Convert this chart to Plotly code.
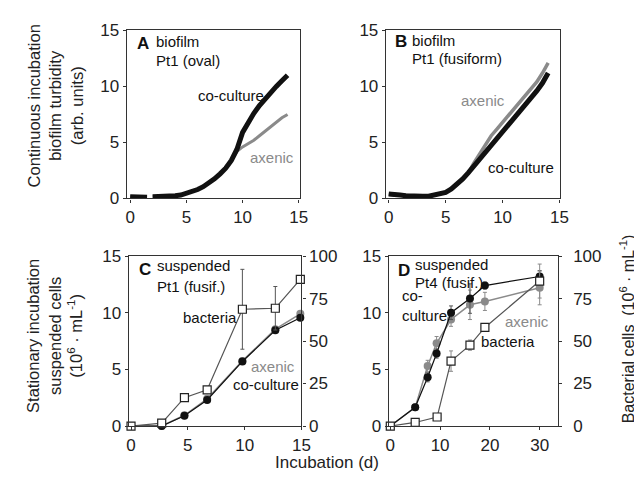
import plotly.graph_objects as go

# ---------------- data ----------------
# Panel A: biofilm Pt1 (oval), continuous incubation turbidity
days_A = [0, 0.5, 1.0, 1.5, 1.75, 2.0, 2.5, 3.0, 3.5, 4.0, 4.5, 5.0, 5.5, 6.0, 6.5, 7.0, 7.5,
          8.0, 8.5, 9.0, 9.5, 10.0, 10.5, 11.0, 11.5, 12.0, 12.5, 13.0, 13.5, 14.0]
A_coculture = [0.15, 0.15, 0.1, 0.1, None, 0.15, 0.15, 0.2, 0.2, 0.25, 0.3, 0.45, 0.6, 0.8, 1.05, 1.35, 1.75,
               2.2, 2.7, 3.4, 4.4, 5.9, 6.8, 7.6, 8.3, 8.9, 9.5, 10.0, 10.5, 11.0]
A_axenic = [0.15, 0.15, 0.1, 0.1, None, 0.15, 0.15, 0.2, 0.2, 0.25, 0.3, 0.45, 0.6, 0.8, 1.05, 1.35, 1.75,
            2.2, 2.7, 3.4, 4.2, 4.6, 4.9, 5.2, 5.6, 6.0, 6.4, 6.8, 7.2, 7.5]

# Panel B: biofilm Pt1 (fusiform)
days_B = [0, 0.5, 1.0, 1.5, 2.0, 2.5, 3.0, 3.5, 4.0, 4.5, 5.0, 5.5, 6.0, 6.5, 7.0, 7.5,
          8.0, 8.5, 9.0, 9.5, 10.0, 10.5, 11.0, 11.5, 12.0, 12.5, 13.0, 13.5, 14.0]
B_coculture = [0.4, 0.3, 0.3, 0.25, 0.2, 0.2, 0.2, 0.2, 0.3, 0.4, 0.55, 0.85, 1.25, 1.75, 2.3, 2.9,
               3.5, 4.1, 4.7, 5.3, 5.9, 6.5, 7.1, 7.7, 8.3, 8.9, 9.6, 10.3, 11.2]
B_axenic = [0.4, 0.3, 0.3, 0.25, 0.2, 0.2, 0.2, 0.2, 0.3, 0.4, 0.55, 0.85, 1.25, 1.75, 2.3, 3.2,
            4.0, 4.8, 5.6, 6.2, 6.8, 7.4, 8.0, 8.6, 9.1, 9.7, 10.4, 11.2, 12.1]

# Panel C: suspended Pt1 (fusif.), stationary incubation
days_C = [0, 2.7, 4.7, 6.7, 9.8, 12.7, 14.9]
C_coculture = [0.0, 0.0, 0.9, 2.3, 5.7, 8.45, 9.55]
C_axenic = [0.0, 0.0, 0.95, 2.4, 5.75, 8.55, 9.9]
C_bacteria = [0.0, 1.7, 16.7, 21.3, 68.7, 69.3, 86.3]        # right axis (10^6 mL-1)
C_bacteria_err = [0, 0.5, 1.5, 1.5, 23.5, 12.8, 2.0]

# Panel D: suspended Pt4 (fusif.)
days_D = [0, 5, 7.5, 9.3, 12.2, 16, 19, 30]
D_coculture = [0.0, 1.65, 4.3, 6.4, 10.0, 11.25, 12.4, 13.2]
D_coculture_err = [0, 0.1, 0.4, 0.4, 0.6, 1.3, 0.3, 0.5]
D_axenic = [0.0, 1.65, 5.3, 7.3, 9.4, 10.7, 11.0, 12.2]
D_axenic_err = [0, 0.1, 0.5, 0.6, 0.6, 1.3, 0.8, 1.5]
days_D_bact = [0, 5, 9.4, 12.2, 16, 19, 30]
D_bacteria = [0.0, 2.1, 5.3, 38.2, 47.6, 58.0, 85.3]       # right axis
D_bacteria_err = [0, 0.5, 0.5, 6.0, 3.0, 2.0, 10.0]

ticks_015 = [0, 5, 10, 15]
ticks_D_x = [0, 10, 20, 30]
ticks_right = [0, 25, 50, 75, 100]

# ---------------- figure ----------------
W, H = 642, 477
def px(x):
    return x / W
def py(y):
    return 1 - y / H

FONT = "Liberation Sans, Arial, sans-serif"
BLACK = "#111111"
GRAY = "#8a8a8a"
DARK = "#555555"

fig = go.Figure()

# A
fig.add_trace(go.Scatter(x=days_A, y=A_axenic, mode="lines", line=dict(color=GRAY, width=3),
                         connectgaps=False, xaxis="x", yaxis="y", showlegend=False))
fig.add_trace(go.Scatter(x=days_A, y=A_coculture, mode="lines", line=dict(color=BLACK, width=5),
                         connectgaps=False, xaxis="x", yaxis="y", showlegend=False))
# B
fig.add_trace(go.Scatter(x=days_B, y=B_axenic, mode="lines", line=dict(color=GRAY, width=3.5),
                         xaxis="x2", yaxis="y2", showlegend=False))
fig.add_trace(go.Scatter(x=days_B, y=B_coculture, mode="lines", line=dict(color=BLACK, width=5),
                         xaxis="x2", yaxis="y2", showlegend=False))

# C
fig.add_trace(go.Scatter(x=days_C, y=C_bacteria, mode="lines+markers",
                         line=dict(color=DARK, width=1.2),
                         marker=dict(symbol="square", size=8, color="white", line=dict(color="#222", width=1.2)),
                         error_y=dict(type="data", array=C_bacteria_err, color=DARK, thickness=1, width=2),
                         xaxis="x3", yaxis="y5", showlegend=False, cliponaxis=False))
fig.add_trace(go.Scatter(x=days_C, y=C_axenic, mode="lines+markers",
                         line=dict(color=GRAY, width=1.5),
                         marker=dict(symbol="circle", size=8, color=GRAY),
                         xaxis="x3", yaxis="y3", showlegend=False, cliponaxis=False))
fig.add_trace(go.Scatter(x=days_C, y=C_coculture, mode="lines+markers",
                         line=dict(color=BLACK, width=1.2),
                         marker=dict(symbol="circle", size=8, color=BLACK),
                         xaxis="x3", yaxis="y3", showlegend=False, cliponaxis=False))

# D
fig.add_trace(go.Scatter(x=days_D_bact, y=D_bacteria, mode="lines+markers",
                         line=dict(color=DARK, width=1.2),
                         marker=dict(symbol="square", size=8, color="white", line=dict(color="#222", width=1.2)),
                         error_y=dict(type="data", array=D_bacteria_err, color=GRAY, thickness=1, width=2),
                         xaxis="x4", yaxis="y6", showlegend=False, cliponaxis=False))
fig.add_trace(go.Scatter(x=days_D, y=D_axenic, mode="lines+markers",
                         line=dict(color=GRAY, width=1.5),
                         marker=dict(symbol="circle", size=8, color=GRAY),
                         error_y=dict(type="data", array=D_axenic_err, color=GRAY, thickness=1, width=2),
                         xaxis="x4", yaxis="y4", showlegend=False, cliponaxis=False))
fig.add_trace(go.Scatter(x=days_D, y=D_coculture, mode="lines+markers",
                         line=dict(color=BLACK, width=1.2),
                         marker=dict(symbol="circle", size=8, color=BLACK),
                         error_y=dict(type="data", array=D_coculture_err, color=DARK, thickness=1, width=2),
                         xaxis="x4", yaxis="y4", showlegend=False, cliponaxis=False))

ax = dict(showline=True, linecolor="#333333", linewidth=1.3, mirror=True, ticks="outside", ticklen=3,
          tickcolor="#333333", showgrid=False, zeroline=False,
          tickfont=dict(family=FONT, size=17, color="#222222"))

fig.update_layout(
    width=W, height=H,
    margin=dict(l=0, r=0, t=0, b=0),
    paper_bgcolor="white", plot_bgcolor="white",
    xaxis=dict(ax, domain=[px(118), px(295)], range=[-0.3, 15.15], tickvals=ticks_015, anchor="y"),
    yaxis=dict(ax, domain=[py(189), py(14)], range=[0, 15], tickvals=ticks_015, anchor="x"),
    xaxis2=dict(ax, domain=[px(382), px(559)], range=[-0.25, 15.0], tickvals=ticks_015, anchor="y2"),
    yaxis2=dict(ax, domain=[py(189), py(14)], range=[0, 15], tickvals=ticks_015, anchor="x2"),
    xaxis3=dict(ax, domain=[px(120), px(296)], range=[-0.2, 15.0], tickvals=ticks_015, anchor="y3"),
    yaxis3=dict(ax, domain=[py(426), py(249)], range=[0, 15], tickvals=ticks_015, anchor="x3"),
    yaxis5=dict(ax, range=[0, 100], tickvals=ticks_right, overlaying="y3", side="right", anchor="x3"),
    xaxis4=dict(ax, domain=[px(385), px(557)], range=[-0.3, 33.6], tickvals=ticks_D_x, anchor="y4"),
    yaxis4=dict(ax, domain=[py(426), py(249)], range=[0, 15], tickvals=ticks_015, anchor="x4"),
    yaxis6=dict(ax, range=[0, 100], tickvals=ticks_right, overlaying="y4", side="right", anchor="x4",
                ticklabelstandoff=8),
)

def label(x, y, text, color=BLACK, size=15, xanchor="left", bold=False, angle=0, yanchor="middle", align="left"):
    if bold:
        text = "<b>" + text + "</b>"
    fig.add_annotation(x=px(x), y=py(y), xref="paper", yref="paper", text=text, showarrow=False,
                       xanchor=xanchor, yanchor=yanchor, textangle=angle, align=align,
                       font=dict(family=FONT, size=size, color=color))

# panel letters and headings
label(126, 28, "A", size=17, bold=True)
label(146, 26, "biofilm", size=15)
label(146, 45, "Pt1 (oval)", size=15)
label(389, 26, "B", size=17, bold=True)
label(407, 24, "biofilm", size=15)
label(407, 43, "Pt1 (fusiform)", size=15)
label(128, 263, "C", size=17, bold=True)
label(147, 259, "suspended", size=15)
label(147, 281, "Pt1 (fusif.)", size=15)
label(392, 264, "D", size=17, bold=True)
label(410, 258, "suspended", size=15)
label(410, 277, "Pt4 (fusif.)", size=15)

# series labels
label(189, 82, "co-culture", size=15)
label(242, 146, "axenic", color=GRAY, size=15)
label(457, 87, "axenic", color=GRAY, size=15)
label(484, 157, "co-culture", size=15)
label(173, 313, "bacteria", size=15)
label(243, 364, "axenic", color=GRAY, size=15)
label(224, 383, "co-culture", size=15)
label(396, 300, "co-<br>culture", size=15, align="left")
label(501, 317, "axenic", color=GRAY, size=15)
label(477, 338, "bacteria", size=15)

# axis titles
label(45, 93, "Continuous incubation<br>biofilm turbidity<br>(arb. units)", size=16.5,
      xanchor="center", angle=-90, align="center", color="#222222")
label(45, 332, "Stationary incubation<br>suspended cells<br>(10<sup>6</sup> · mL<sup>-1</sup>)", size=16.5,
      xanchor="center", angle=-90, align="center", color="#222222")
label(628, 325, "Bacterial cells  (10<sup>6</sup> · mL<sup>-1</sup>)", size=16,
      xanchor="center", angle=-90, align="center", color="#222222")
label(322, 464, "Incubation (d)", size=17, xanchor="center", color="#222222")

fig.write_html("out.html")
